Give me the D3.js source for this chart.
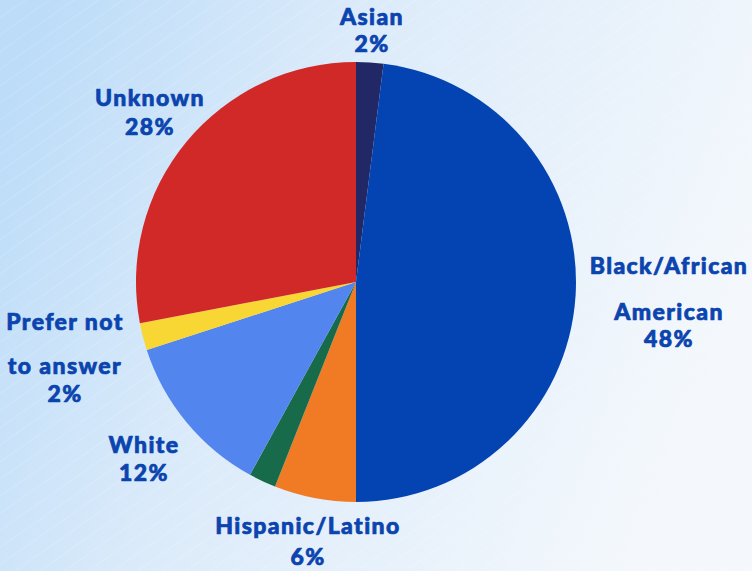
<!DOCTYPE html>
<html>
<head>
<meta charset="utf-8">
<script src="https://cdn.jsdelivr.net/npm/d3@7"></script>
<style>
  html, body { margin: 0; padding: 0; }
  body { width: 752px; height: 571px; overflow: hidden; }
  .label {
    font-family: Lato, sans-serif; font-weight: 900; font-size: 23px;
    fill: #0b44ae; stroke: #0b44ae; stroke-width: 0.7px; stroke-linejoin: round;
    letter-spacing: 1.4px;
  }
</style>
</head>
<body>
<div id="chart"></div>
<script>
// slices, clockwise from 12 o'clock
const categories = ["Asian", "Black/African American", "Hispanic/Latino", "Other", "White", "Prefer not to answer", "Unknown"];
const percents = [2, 48, 6, 2, 12, 2, 28];
const colors = ["#222765", "#0344b2", "#f17b25", "#176b4b", "#5385ee", "#f8d633", "#d12828"];
// label lines as printed (empty = no label)
const labelLines = [
  ["Asian", "2%"],
  ["Black/African", "American", "48%"],
  ["Hispanic/Latino", "6%"],
  [],
  ["White", "12%"],
  ["Prefer not", "to answer", "2%"],
  ["Unknown", "28%"]
];

const width = 752, height = 571;
const cx = 356, cy = 282, radius = 220;

const svg = d3.select("#chart").append("svg")
  .attr("width", width)
  .attr("height", height);

// background wash
const defs = svg.append("defs");
const bg = defs.append("linearGradient")
  .attr("id", "bg")
  .attr("x1", "0").attr("y1", "0.2")
  .attr("x2", "1").attr("y2", "0.5");
bg.append("stop").attr("offset", "0").attr("stop-color", "#bcdcf8");
bg.append("stop").attr("offset", "0.4").attr("stop-color", "#dcebfa");
bg.append("stop").attr("offset", "1").attr("stop-color", "#f4f8fc");

const streaks = defs.append("pattern")
  .attr("id", "streaks")
  .attr("width", 14).attr("height", 14)
  .attr("patternUnits", "userSpaceOnUse")
  .attr("patternTransform", "rotate(-35)");
streaks.append("line")
  .attr("x1", 0).attr("y1", 0).attr("x2", 14).attr("y2", 0)
  .attr("stroke", "#ffffff").attr("stroke-width", 1.2).attr("stroke-opacity", 0.25);

svg.append("rect").attr("width", width).attr("height", height).attr("fill", "url(#bg)");
svg.append("rect").attr("width", width).attr("height", height).attr("fill", "url(#streaks)");

const data = categories.map((c, i) => ({ name: c, value: percents[i], color: colors[i], lines: labelLines[i] }));

const pie = d3.pie().value(d => d.value).sort(null);
const arc = d3.arc().innerRadius(0).outerRadius(radius);

const g = svg.append("g").attr("transform", `translate(${cx},${cy})`);

g.selectAll("path.slice")
  .data(pie(data))
  .join("path")
  .attr("class", "slice")
  .attr("d", arc)
  .attr("fill", d => d.data.color);

// label anchors (center x, baseline y of each line)
const labelPos = {
  "Asian": { x: 372, y: [25, 52] },
  "Black/African American": { x: 669, y: [274, 320, 347] },
  "Hispanic/Latino": { x: 308, y: [534, 565] },
  "White": { x: 144, y: [453, 481] },
  "Prefer not to answer": { x: 65, y: [330, 374, 402] },
  "Unknown": { x: 150, y: [106, 135] }
};

const labels = svg.append("g");
data.filter(d => d.lines.length).forEach(d => {
  const p = labelPos[d.name];
  d.lines.forEach((line, j) => {
    labels.append("text")
      .attr("class", "label")
      .attr("x", p.x)
      .attr("y", p.y[j])
      .attr("text-anchor", "middle")
      .text(line);
  });
});
</script>
</body>
</html>
